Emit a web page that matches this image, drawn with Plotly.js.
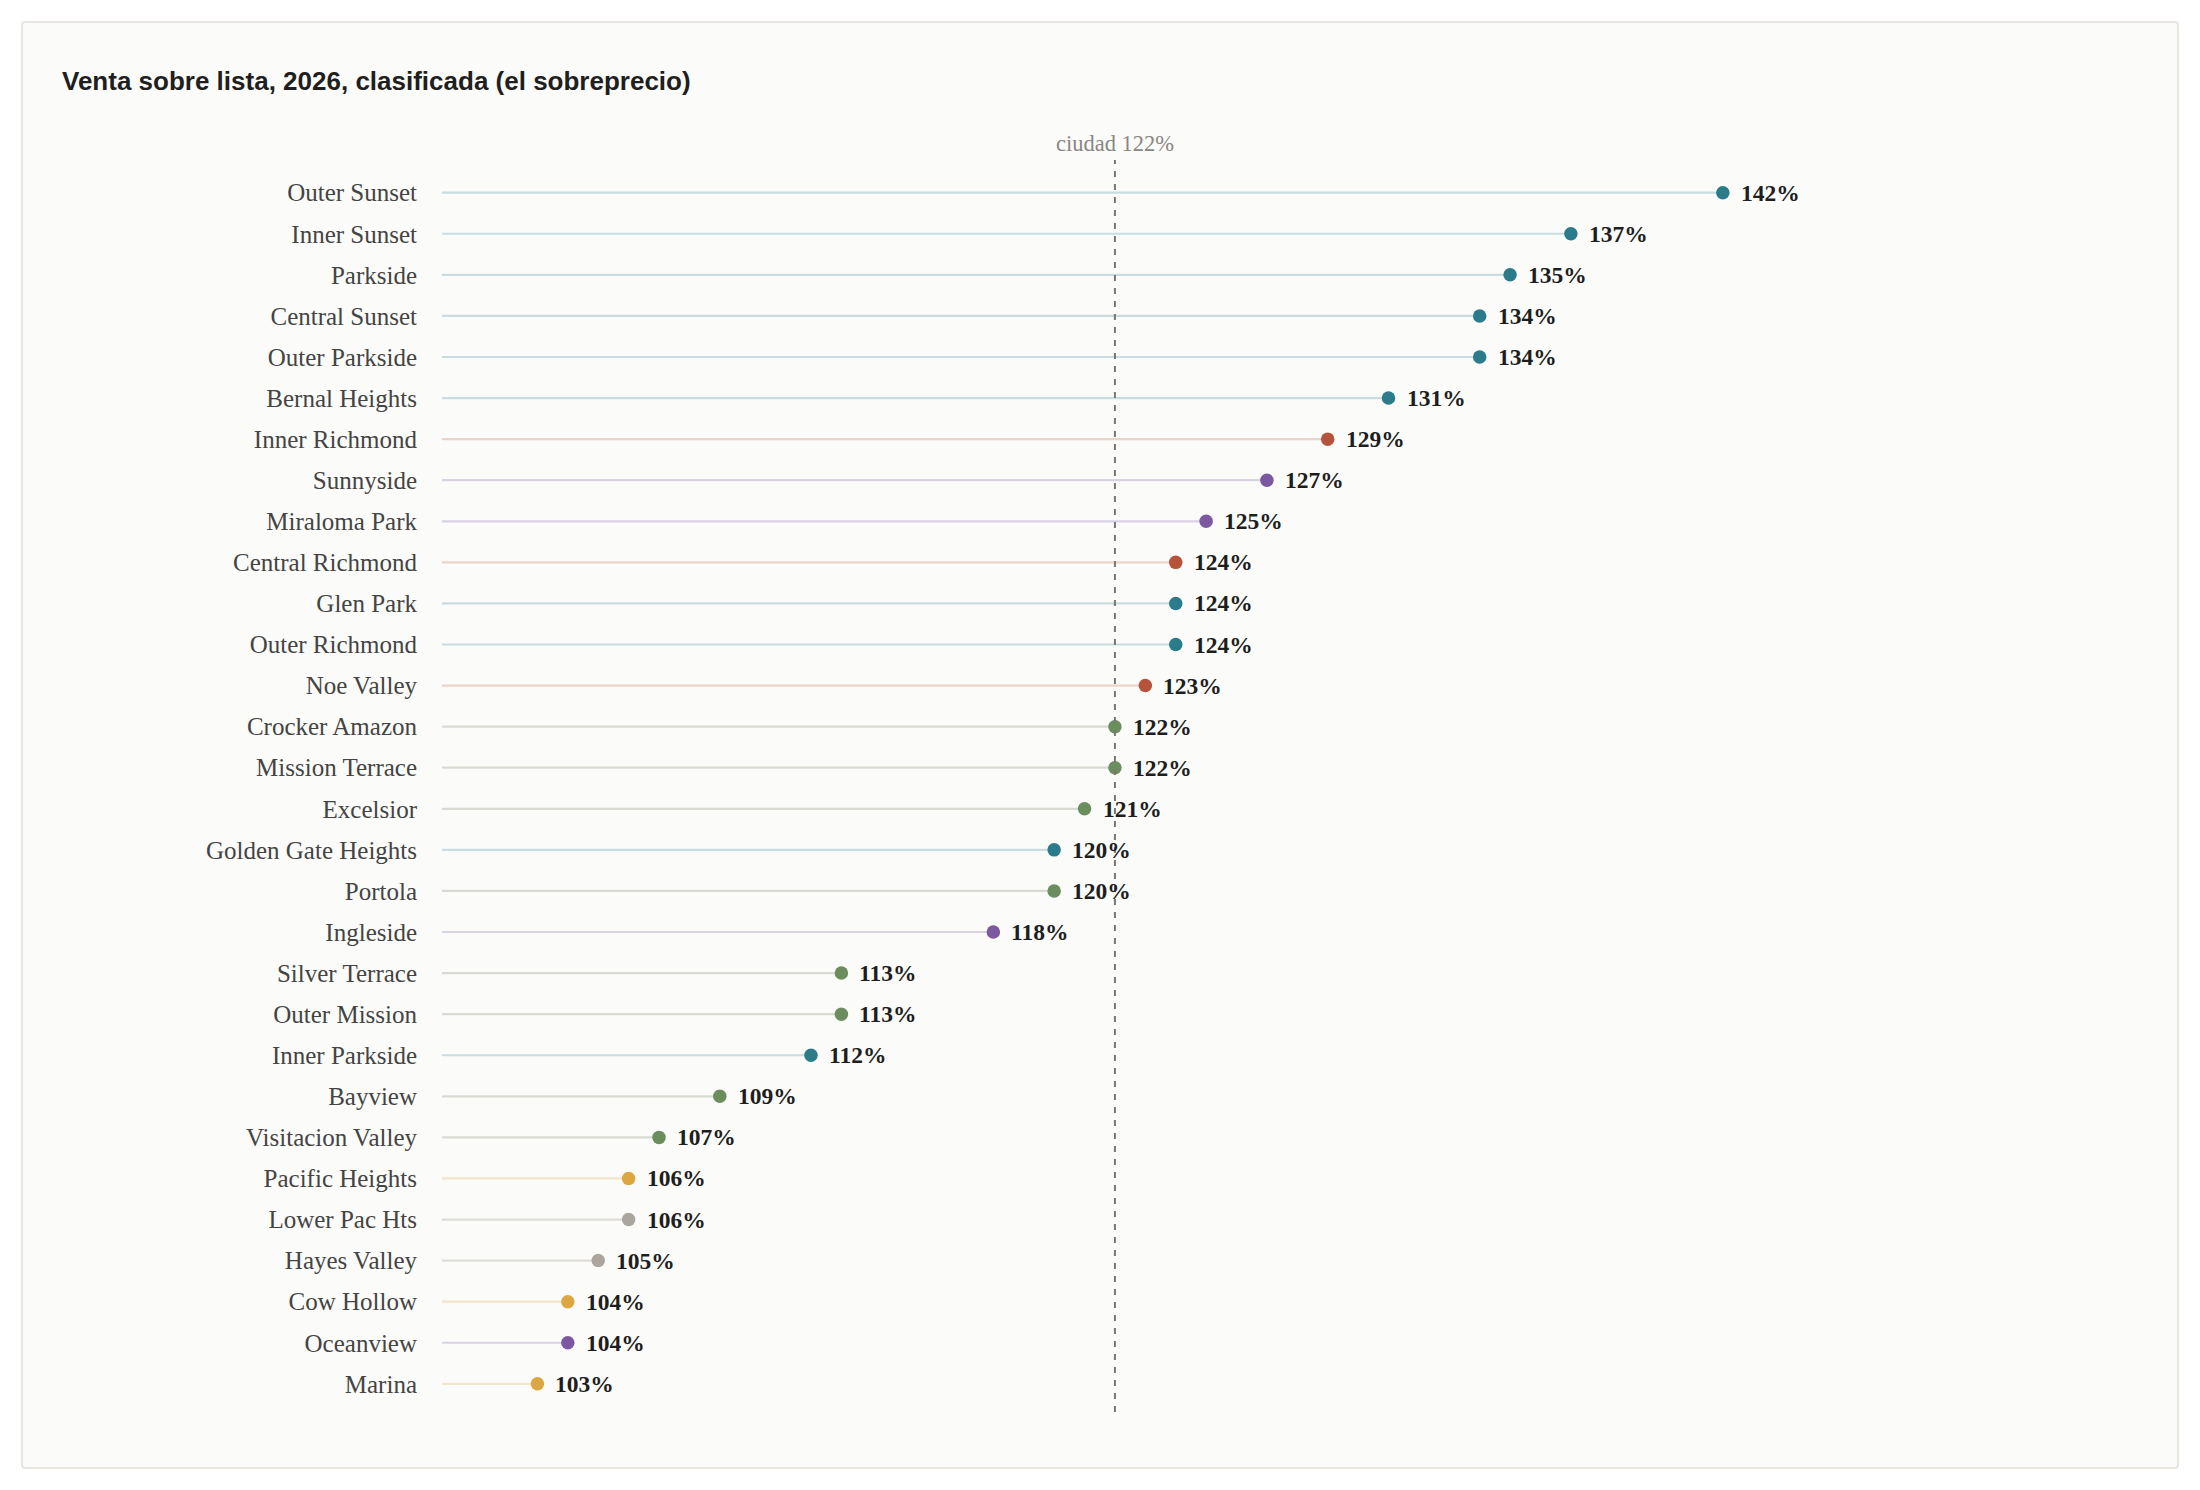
<!DOCTYPE html>
<html>
<head>
<meta charset="utf-8">
<script src="https://cdn.plot.ly/plotly-3.0.1.min.js"></script>
<style>
  html, body { margin: 0; padding: 0; background: #ffffff; }
  #wrap { position: relative; width: 2200px; height: 1490px; }
  #card {
    position: absolute; left: 21px; top: 21px;
    width: 2154px; height: 1444px;
    background: #fbfbf9; border: 2px solid #e7e5de; border-radius: 4px;
  }
  #chart { position: absolute; left: 0; top: 0; width: 2200px; height: 1490px; }
</style>
</head>
<body>
<div id="wrap">
  <div id="card"></div>
  <div id="chart"></div>
</div>
<script>
// Neighbourhoods ranked by sale-to-list ratio (percent), 2026
const neighborhoods = [
  "Outer Sunset", "Inner Sunset", "Parkside", "Central Sunset", "Outer Parkside",
  "Bernal Heights", "Inner Richmond", "Sunnyside", "Miraloma Park", "Central Richmond",
  "Glen Park", "Outer Richmond", "Noe Valley", "Crocker Amazon", "Mission Terrace",
  "Excelsior", "Golden Gate Heights", "Portola", "Ingleside", "Silver Terrace",
  "Outer Mission", "Inner Parkside", "Bayview", "Visitacion Valley", "Pacific Heights",
  "Lower Pac Hts", "Hayes Valley", "Cow Hollow", "Oceanview", "Marina"
];
const saleToList = [
  142, 137, 135, 134, 134,
  131, 129, 127, 125, 124,
  124, 124, 123, 122, 122,
  121, 120, 120, 118, 113,
  113, 112, 109, 107, 106,
  106, 105, 104, 104, 103
];
const groups = [
  "teal", "teal", "teal", "teal", "teal",
  "teal", "red", "purple", "purple", "red",
  "teal", "teal", "red", "green", "green",
  "green", "teal", "green", "purple", "green",
  "green", "teal", "green", "green", "gold",
  "gray", "gray", "gold", "purple", "gold"
];
const cityValue = 122;
const cityLabel = "ciudad 122%";
const chartTitle = "Venta sobre lista, 2026, clasificada (el sobreprecio)";

// dot colour and pale stem colour for each group
const dotColors = {
  teal: "#2b7b8b", red: "#b5543a", purple: "#7b58a0",
  green: "#6c8e5f", gold: "#dca640", gray: "#aaa59d"
};
const stemColors = {
  teal: "#c9dcdf", red: "#ebd3ca", purple: "#d9d2e4",
  green: "#d8dbd3", gold: "#f1e6cb", gray: "#dfddd8"
};

const X_MIN = 99.86, X_MAX = 150;
const serif = "Liberation Serif, Times New Roman, serif";

const traces = [];
// stems: one line trace per group, from the axis start to the value
Object.keys(dotColors).forEach(g => {
  const xs = [], ys = [];
  neighborhoods.forEach((n, i) => {
    if (groups[i] !== g) return;
    xs.push(X_MIN, saleToList[i], null);
    ys.push(n, n, null);
  });
  traces.push({
    type: "scatter", mode: "lines", x: xs, y: ys,
    line: { color: stemColors[g], width: 2.2 },
    hoverinfo: "skip", showlegend: false, connectgaps: false
  });
});
// dots
traces.push({
  type: "scatter", mode: "markers",
  x: saleToList, y: neighborhoods,
  marker: { size: 13.5, color: groups.map(g => dotColors[g]), line: { width: 0 } },
  showlegend: false,
  hovertemplate: "%{y}: %{x}%<extra></extra>"
});

// value labels beside each dot
const annotations = neighborhoods.map((n, i) => ({
  x: saleToList[i], y: n, xref: "x", yref: "y",
  text: saleToList[i] + "%", showarrow: false,
  xanchor: "left", yanchor: "middle", xshift: 16,
  font: { family: serif, size: 23.5, color: "#1e1e1e", weight: "bold" }
}));
annotations.push({
  x: cityValue, y: 1, xref: "x", yref: "paper",
  text: cityLabel, showarrow: false,
  xanchor: "center", yanchor: "middle", yshift: 17,
  font: { family: serif, size: 22.5, color: "#8a8782" }
});

const layout = {
  width: 2200, height: 1490,
  paper_bgcolor: "rgba(0,0,0,0)", plot_bgcolor: "rgba(0,0,0,0)",
  margin: { l: 442, r: 234, t: 160, b: 78 },
  title: {
    text: chartTitle, xref: "container", yref: "container",
    x: 62 / 2200, xanchor: "left", y: 1 - 81 / 1490, yanchor: "middle",
    font: { family: "Liberation Sans, Arial, sans-serif", size: 26, color: "#1f1f1f", weight: "bold" }
  },
  xaxis: {
    range: [X_MIN, X_MAX], showgrid: false, zeroline: false,
    showline: false, showticklabels: false, ticks: "", fixedrange: true
  },
  yaxis: {
    type: "category", categoryorder: "array", categoryarray: neighborhoods,
    range: [29.686, -0.796], autorange: false,
    showgrid: false, zeroline: false, showline: false,
    ticks: "outside", ticklen: 19, tickcolor: "rgba(0,0,0,0)",
    tickfont: { family: serif, size: 25, color: "#444444" }
  },
  shapes: [{
    type: "line", xref: "x", yref: "paper",
    x0: cityValue, x1: cityValue, y0: 0, y1: 1,
    line: { color: "#7a7773", width: 2, dash: "6px,7px" }
  }],
  annotations: annotations
};

Plotly.newPlot("chart", traces, layout, { displayModeBar: false, staticPlot: true });
</script>
</body>
</html>
